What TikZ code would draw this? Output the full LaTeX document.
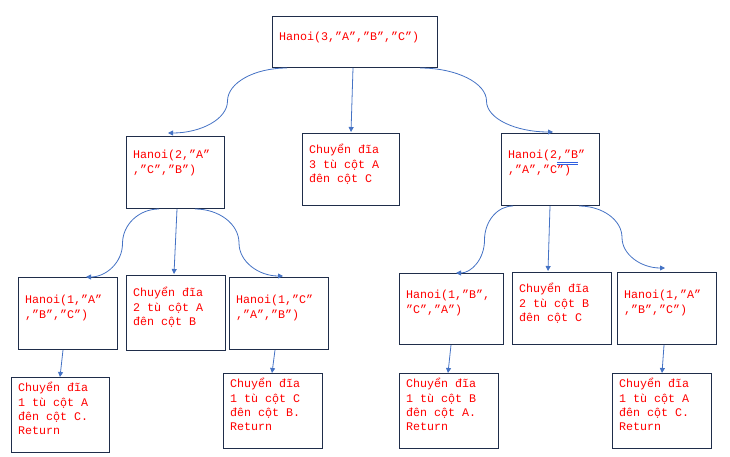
\documentclass[tikz,border=0pt]{standalone}
\usepackage{fontspec}
\newfontfamily\codefont{Liberation Mono}
\usetikzlibrary{arrows.meta,positioning}
\definecolor{boxline}{HTML}{1F2D4A}
\definecolor{linkblue}{HTML}{4472C4}
\definecolor{markblue}{HTML}{2F5FE0}
\tikzstyle{callbox}=[rectangle,draw=boxline,line width=1pt,inner sep=0pt,anchor=north west]
\tikzstyle{code}=[anchor=north west,inner sep=0pt,align=left,text=red,font=\codefont\fontsize{11.67}{14.4}\selectfont,execute at begin node=\strut]
\tikzstyle{link} = [draw,linkblue,line width=0.8pt,-{Triangle[length=5pt,width=5pt]}]

\begin{document}
\begin{tikzpicture}[x=1pt,y=-1pt]

    \useasboundingbox (0,0) rectangle (730,457);

     \foreach \x/\y/\w/\h/\ty/\name/\txt in {
        272/16/165/51/14/h3/{Hanoi(3,”A”,”B”,”C”)},
        126/136/98/72/14/h2a/{Hanoi(2,”A”\\,”C”,”B”)},
        302/133/97/72/11/m3/{Chuyển đĩa\\3 tù cột A\\đên cột C},
        501/133/98/72/17/h2b/{Hanoi(2,”B”\\,”A”,”C”)},
        18/277/99/72/18/h1a/{Hanoi(1,”A”\\,”B”,”C”)},
        126/275/99/75/12/m2a/{Chuyển đĩa\\2 tù cột A\\đên cột B},
        229/277/99/72/18/h1b/{Hanoi(1,”C”\\,”A”,”B”)},
        399/273/104/71/17/h1c/{Hanoi(1,”B”,\\”C”,”A”)},
        512/272/99/72/11/m2b/{Chuyển đĩa\\2 tù cột B\\đên cột C},
        617/272/99/72/18/h1d/{Hanoi(1,”A”\\,”B”,”C”)},
        11/377/98/75/5/m1a/{Chuyển đĩa\\1 tù cột A\\đên cột C.\\Return},
        223/373/99/75/5/m1b/{Chuyển đĩa\\1 tù cột C\\đên cột B.\\Return},
        399/373/99/75/5/m1c/{Chuyển đĩa\\1 tù cột B\\đên cột A.\\Return},
        612/373/99/75/5/m1d/{Chuyển đĩa\\1 tù cột A\\đên cột C.\\Return}}
     {
        \node[callbox, minimum width=\w pt, minimum height=\h pt] (\name) at (\x,\y) {};
        \node[code] (\name-t) at ([xshift=7pt,yshift=-\ty pt]\name.north west) {\txt};
     }

    % recursive calls
    \foreach \source/\sx/\dest/\ex/\ey/\mx/\my/\cx/\cy in {h3/15/h2a/42/3/-59.5/33/-33/18, h3/148/h2b/52/1/66.5/33/36.6/18, h2a/33/h1a/68/0/-36.5/34.5/-20/19, h2a/69/h1b/54/1/44/34/24/19, h2b/12/h1c/57/0/-28.5/34/-15.7/18.7, h2b/78/h1d/48/4/43/31.5/23.7/17.3}
        \path[link] ([xshift=\sx pt]\source.south west) .. controls +(\cx,0) and +(0,-\cy) .. ++(\mx,\my)
            .. controls +(0,\cy) and +(-\cx,0) .. ([xshift=\ex pt,yshift=\ey pt]\dest.north west);

    % moves
    \foreach \source/\sx/\dest/\ex/\ey in {h3/81/m3/49/1, h2a/51/m2a/48/1, h2b/49/m2b/36/1, h1a/45/m1a/49/0, h1b/46/m1b/49/0, h1c/52/m1c/49/0, h1d/47/m1d/50/0}
        \path[link] ([xshift=\sx pt]\source.south west) -- ([xshift=\ex pt,yshift=\ey pt]\dest.north west);

    \draw[markblue, line width=0.7pt] ([xshift=49pt,yshift=-12.6pt]h2b-t.north west) -- ++(21,0);
    \draw[markblue, line width=0.7pt] ([xshift=49pt,yshift=-14.8pt]h2b-t.north west) -- ++(21,0);

\end{tikzpicture}
\end{document}
